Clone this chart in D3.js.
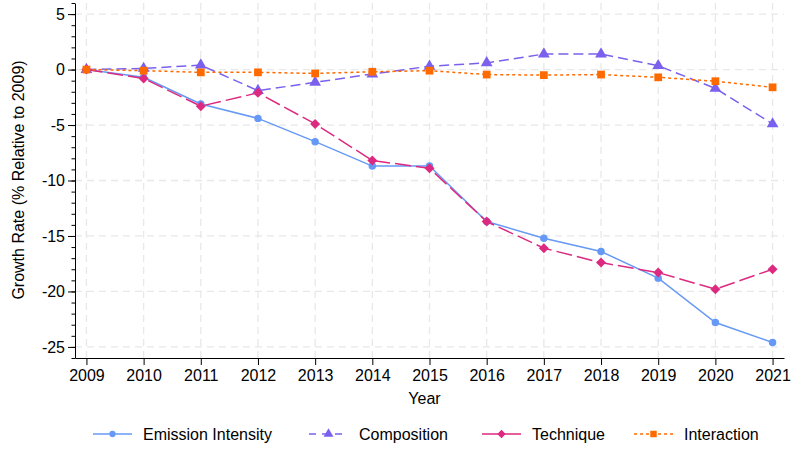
<!DOCTYPE html>
<html>
<head>
<meta charset="utf-8">
<script src="https://cdn.jsdelivr.net/npm/d3@7"></script>
<style>
body { margin: 0; background: #fff; }
text { font-family: "Liberation Sans", Arial, Helvetica, sans-serif; fill: #000; }
</style>
</head>
<body>
<div id="chart"></div>
<script>
var width = 792;
var height = 449;

var years = [2009, 2010, 2011, 2012, 2013, 2014, 2015, 2016, 2017, 2018, 2019, 2020, 2021];
var emission = [0, -0.7, -3.1, -4.4, -6.5, -8.7, -8.7, -13.7, -15.2, -16.4, -18.8, -22.8, -24.6];
var composition = [0, 0.1, 0.4, -1.9, -1.15, -0.4, 0.3, 0.6, 1.4, 1.4, 0.35, -1.7, -4.9];
var technique = [0, -0.8, -3.3, -2.1, -4.9, -8.2, -8.9, -13.7, -16.1, -17.4, -18.3, -19.8, -18.0];
var interaction = [0, -0.1, -0.25, -0.25, -0.35, -0.2, -0.1, -0.45, -0.5, -0.45, -0.7, -1.05, -1.6];
var yTicks = [5, 0, -5, -10, -15, -20, -25];
var seriesNames = ["Emission Intensity", "Composition", "Technique", "Interaction"];

var series = [
	{name: seriesNames[0], values: emission, color: "#6699f5", dash: null, symbol: d3.symbolCircle, size: 44, rot: 0},
	{name: seriesNames[1], values: composition, color: "#7b60ee", dash: "10,5", symbol: d3.symbolTriangle, size: 60, rot: 0},
	{name: seriesNames[2], values: technique, color: "#dc2a80", dash: "16,5", symbol: d3.symbolSquare, size: 50, rot: 45},
	{name: seriesNames[3], values: interaction, color: "#ff6a00", dash: "3,3", symbol: d3.symbolSquare, size: 60, rot: 0}
];

var svg = d3.select("#chart").append("svg")
	.attr("width", width)
	.attr("height", height);

var x = d3.scaleLinear().domain([2008.8, 2021.2]).range([75, 784]);
var y = d3.scaleLinear().domain([-26, 6]).range([358, 3]);

// grid
svg.append("g").selectAll("line")
	.data(yTicks).enter().append("line")
	.attr("x1", x.range()[0]).attr("x2", x.range()[1])
	.attr("y1", d => y(d)).attr("y2", d => y(d))
	.attr("stroke", "#e8e8e8").attr("stroke-width", 1.3)
	.attr("stroke-dasharray", "7,5");

svg.append("g").selectAll("line")
	.data(years).enter().append("line")
	.attr("x1", d => x(d)).attr("x2", d => x(d))
	.attr("y1", y.range()[0]).attr("y2", y.range()[1])
	.attr("stroke", "#e8e8e8").attr("stroke-width", 1.3)
	.attr("stroke-dasharray", "7,5");

// axes
var yAxis = svg.append("g")
	.attr("transform", "translate(75,0)")
	.call(d3.axisLeft(y).tickValues(yTicks).tickFormat(d => String(d)).tickSize(7).tickSizeOuter(0));
yAxis.selectAll("text").attr("font-size", 16).attr("x", -10);

svg.append("g")
	.attr("transform", "translate(75,0)")
	.call(d3.axisLeft(y).tickValues(d3.range(-26, 7)).tickFormat("").tickSize(3.5).tickSizeOuter(0))
	.select(".domain").remove();

var xAxis = svg.append("g")
	.attr("transform", "translate(0,358)")
	.call(d3.axisBottom(x).tickValues(years).tickFormat(d => String(d)).tickSize(7).tickSizeOuter(0));
xAxis.selectAll("text").attr("font-size", 16).attr("y", 12);

svg.selectAll(".domain, .tick line").attr("stroke", "#000");

svg.append("text")
	.attr("x", (x.range()[0] + x.range()[1]) / 2 - 5)
	.attr("y", 404)
	.attr("text-anchor", "middle")
	.attr("font-size", 16)
	.text("Year");

svg.append("text")
	.attr("transform", "translate(24,180) rotate(-90)")
	.attr("text-anchor", "middle")
	.attr("font-size", 16)
	.text("Growth Rate (% Relative to 2009)");

// lines
var line = d3.line()
	.x((d, i) => x(years[i]))
	.y(d => y(d));

series.forEach(function(s) {
	svg.append("path")
		.datum(s.values)
		.attr("d", line)
		.attr("fill", "none")
		.attr("stroke", s.color)
		.attr("stroke-width", 1.5)
		.attr("stroke-dasharray", s.dash);
});

series.forEach(function(s) {
	svg.append("g").selectAll("path")
		.data(s.values).enter().append("path")
		.attr("transform", (d, i) => "translate(" + x(years[i]) + "," + y(d) + ") rotate(" + s.rot + ")")
		.attr("d", d3.symbol().type(s.symbol).size(s.size))
		.attr("fill", s.color);
});

// legend
var legendX = [93, 309, 482, 634];
var legend = svg.append("g");
series.forEach(function(s, i) {
	var g = legend.append("g").attr("transform", "translate(" + legendX[i] + ",434)");
	g.append("line")
		.attr("x1", 0).attr("x2", 39)
		.attr("y1", 0).attr("y2", 0)
		.attr("stroke", s.color)
		.attr("stroke-width", 1.5)
		.attr("stroke-dasharray", s.dash ? (i == 2 ? null : (i == 1 ? "7,6" : "3,3")) : null);
	g.append("path")
		.attr("transform", "translate(19.5,0) rotate(" + s.rot + ")")
		.attr("d", d3.symbol().type(s.symbol).size(s.size * 0.7))
		.attr("fill", s.color);
	g.append("text")
		.attr("x", 50)
		.attr("y", 0)
		.attr("dy", "0.35em")
		.attr("font-size", 16)
		.text(s.name);
});
</script>
</body>
</html>
